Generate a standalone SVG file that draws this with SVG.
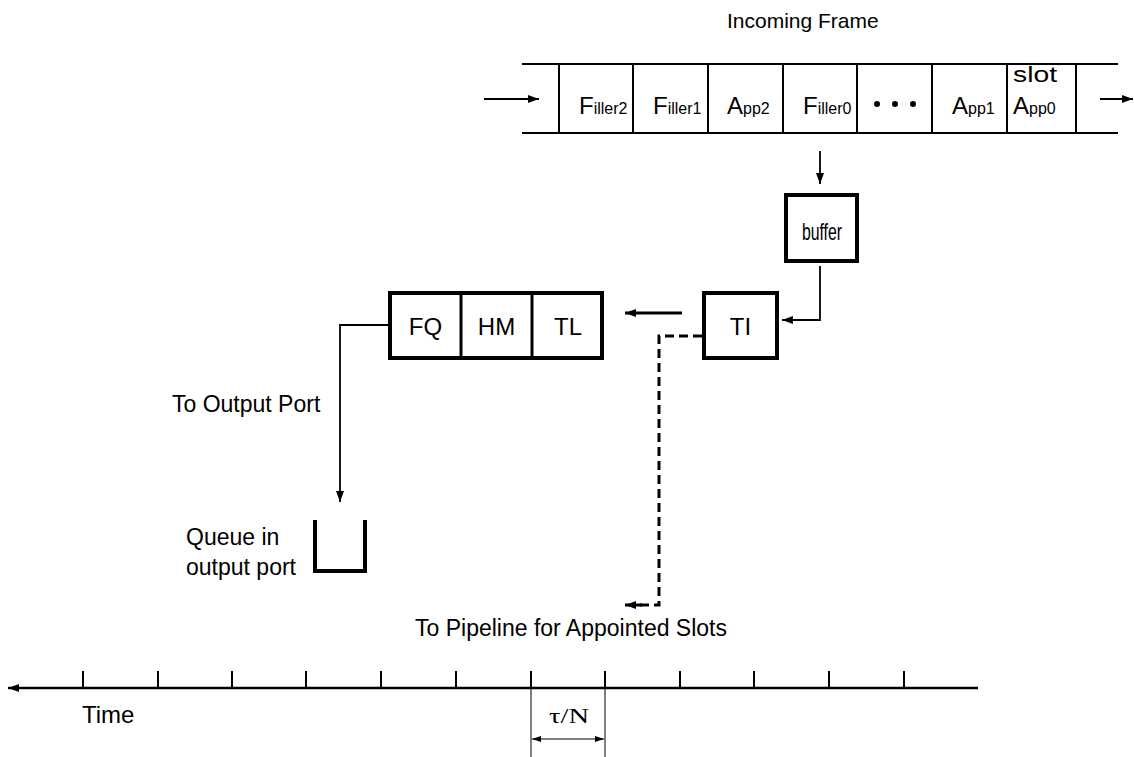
<svg xmlns="http://www.w3.org/2000/svg" width="1134" height="757" viewBox="0 0 1134 757">
  <style>
    text { font-family: "Liberation Sans", Arial, sans-serif; fill: #000; }
    .lbl { font-size: 23px; }
    .box-lbl { font-size: 24px; }
    .big { font-size: 24px; }
    .sub { font-size: 16px; }
    .frame { stroke: #000; stroke-width: 2; fill: none; }
    .box { stroke: #000; stroke-width: 4; fill: #fff; }
    .wire { stroke: #000; stroke-width: 1.8; fill: none; }
    .thin { stroke: #000; stroke-width: 1; fill: none; }
    .dash { stroke: #000; stroke-width: 3; fill: none; stroke-dasharray: 9 5; }
  </style>
  <defs>
    <marker id="arr" markerUnits="userSpaceOnUse" markerWidth="11" markerHeight="8" refX="11" refY="4" orient="auto">
      <path d="M0,0 L11,4 L0,8 z" fill="#000"/>
    </marker>
    <marker id="arrS" markerUnits="userSpaceOnUse" markerWidth="9" markerHeight="6" refX="9" refY="3" orient="auto-start-reverse">
      <path d="M0,0 L9,3 L0,6 z" fill="#000"/>
    </marker>
  </defs>

  <rect width="1134" height="757" fill="#fff"/>

  <!-- incoming frame: slot row with filler and appointed slots -->
  <g id="incoming-frame">
    <text x="727" y="28" style="font-size:21px">Incoming Frame</text>
    <line class="frame" x1="522" y1="64" x2="1118" y2="64"/>
    <line class="frame" x1="522" y1="133" x2="1118" y2="133"/>
    <line class="frame" x1="559" y1="64" x2="559" y2="133"/>
    <line class="frame" x1="633" y1="64" x2="633" y2="133"/>
    <line class="frame" x1="708" y1="64" x2="708" y2="133"/>
    <line class="frame" x1="783" y1="64" x2="783" y2="133"/>
    <line class="frame" x1="857" y1="64" x2="857" y2="133"/>
    <line class="frame" x1="932" y1="64" x2="932" y2="133"/>
    <line class="frame" x1="1007" y1="64" x2="1007" y2="133"/>
    <line class="frame" x1="1076" y1="64" x2="1076" y2="133"/>
    <text x="579" y="114"><tspan class="big">F</tspan><tspan class="sub">iller2</tspan></text>
    <text x="653" y="114"><tspan class="big">F</tspan><tspan class="sub">iller1</tspan></text>
    <text x="727" y="114"><tspan class="big">A</tspan><tspan class="sub">pp2</tspan></text>
    <text x="803" y="114"><tspan class="big">F</tspan><tspan class="sub">iller0</tspan></text>
    <circle cx="877" cy="104" r="3" fill="#000"/>
    <circle cx="895" cy="104" r="3" fill="#000"/>
    <circle cx="913" cy="104" r="3" fill="#000"/>
    <text x="952" y="114"><tspan class="big">A</tspan><tspan class="sub">pp1</tspan></text>
    <text x="1013" y="82" style="font-size:22px" textLength="44" lengthAdjust="spacingAndGlyphs">slot</text>
    <text x="1013" y="114"><tspan class="big">A</tspan><tspan class="sub">pp0</tspan></text>
  </g>

  <g id="buffer">
    <rect class="box" x="786" y="195" width="71" height="66"/>
    <text class="big" text-anchor="middle" transform="translate(822,240) scale(0.66,1)">buffer</text>
  </g>

  <g id="ti">
    <rect class="box" x="704" y="293" width="73" height="65"/>
    <text class="box-lbl" x="740.5" y="335" text-anchor="middle">TI</text>
  </g>

  <g id="fq-hm-tl">
    <rect class="box" x="390" y="293" width="212" height="65"/>
    <line stroke="#000" stroke-width="3" x1="461" y1="293" x2="461" y2="358"/>
    <line stroke="#000" stroke-width="3" x1="532" y1="293" x2="532" y2="358"/>
    <text class="box-lbl" x="425.5" y="335" text-anchor="middle">FQ</text>
    <text class="box-lbl" x="496.5" y="335" text-anchor="middle">HM</text>
    <text class="box-lbl" x="568" y="335" text-anchor="middle">TL</text>
  </g>

  <g id="output-queue">
    <path d="M315,520 V571 H365 V520" fill="none" stroke="#000" stroke-width="4"/>
    <text class="lbl" x="186" y="545">Queue in</text>
    <text class="lbl" x="186" y="575">output port</text>
  </g>

  <g id="connectors">
    <line class="wire" x1="484" y1="99" x2="539" y2="99" marker-end="url(#arr)"/>
    <line class="wire" x1="1100" y1="99" x2="1133" y2="99" marker-end="url(#arr)"/>
    <line class="wire" x1="820" y1="151" x2="820" y2="184" marker-end="url(#arr)"/>
    <path class="wire" d="M820,266 V320 H782" marker-end="url(#arr)"/>
    <line stroke="#000" stroke-width="3" x1="682" y1="313" x2="625" y2="313" marker-end="url(#arr)"/>
    <path class="wire" d="M390,325 H340 V502" marker-end="url(#arr)"/>
    <path class="dash" d="M702,336 H659 V605 H640"/>
    <line stroke="#000" stroke-width="3" x1="642" y1="605" x2="625" y2="605" marker-end="url(#arr)"/>
  </g>

  <text class="lbl" x="172" y="412">To Output Port</text>
  <text class="lbl" x="415" y="636">To Pipeline for Appointed Slots</text>

  <!-- time axis with one slot interval marked -->
  <g id="time-axis">
    <line stroke="#000" stroke-width="2.5" x1="978" y1="688" x2="8" y2="688" marker-end="url(#arr)"/>
    <g stroke="#000" stroke-width="2">
      <line x1="83" y1="671" x2="83" y2="688"/>
      <line x1="158" y1="671" x2="158" y2="688"/>
      <line x1="232" y1="671" x2="232" y2="688"/>
      <line x1="306" y1="671" x2="306" y2="688"/>
      <line x1="381" y1="671" x2="381" y2="688"/>
      <line x1="456" y1="671" x2="456" y2="688"/>
      <line x1="531" y1="671" x2="531" y2="688"/>
      <line x1="605" y1="671" x2="605" y2="688"/>
      <line x1="680" y1="671" x2="680" y2="688"/>
      <line x1="754" y1="671" x2="754" y2="688"/>
      <line x1="829" y1="671" x2="829" y2="688"/>
      <line x1="904" y1="671" x2="904" y2="688"/>
    </g>
    <text x="82" y="723" style="font-size:24px">Time</text>
    <line class="thin" x1="531" y1="688" x2="531" y2="757"/>
    <line class="thin" x1="605" y1="688" x2="605" y2="757"/>
    <line class="thin" x1="532" y1="739" x2="604" y2="739" marker-start="url(#arrS)" marker-end="url(#arrS)"/>
    <text x="549" y="723" style="font-family:'Liberation Serif','Times New Roman',serif;font-size:22px" textLength="40" lengthAdjust="spacingAndGlyphs">τ/N</text>
  </g>
</svg>
